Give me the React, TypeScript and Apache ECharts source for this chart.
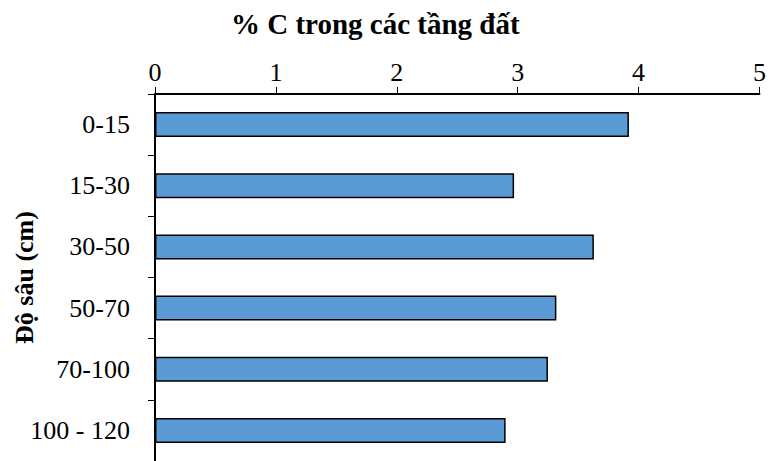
import React, { useEffect, useRef } from "react";
import * as echarts from "echarts";

// Soil depth layers (top to bottom) and organic carbon content (%)
const depths = ["0-15", "15-30", "30-50", "50-70", "70-100", "100 - 120"];
const carbonPct = [3.92, 2.97, 3.63, 3.32, 3.25, 2.9];
const xTicks = { min: 0, max: 5, interval: 1 };

const titleText = "% C trong các tầng đất";
const yAxisTitle = "Độ sâu (cm)";

const FONT = "'Liberation Serif', 'Times New Roman', serif";

export default function App() {
  const ref = useRef<HTMLDivElement>(null);

  useEffect(() => {
    if (!ref.current) return;
    const chart = echarts.init(ref.current, undefined, { renderer: "svg" });
    chart.setOption({
      animation: false,
      backgroundColor: "#ffffff",
      title: {
        text: titleText,
        left: 231,
        top: 9,
        padding: 0,
        textStyle: {
          fontFamily: FONT,
          fontWeight: "bold",
          fontSize: 29,
          color: "#000000",
        },
      },
      grid: {
        left: 155,
        right: 8.5,
        top: 94,
        height: 367,
        containLabel: false,
        outerBoundsMode: "none",
      },
      xAxis: {
        type: "value",
        position: "top",
        min: xTicks.min,
        max: xTicks.max,
        interval: xTicks.interval,
        axisLine: { show: true, lineStyle: { color: "#000000", width: 2 } },
        axisTick: { show: true, inside: false, length: 7, lineStyle: { color: "#000000", width: 1 } },
        axisLabel: { fontFamily: FONT, fontSize: 26, color: "#000000", margin: 9 },
        splitLine: { show: false },
      },
      yAxis: {
        type: "category",
        data: depths,
        inverse: true,
        name: yAxisTitle,
        nameLocation: "middle",
        nameGap: 118,
        nameMoveOverlap: false,
        nameTextStyle: {
          fontFamily: FONT,
          fontWeight: "bold",
          fontSize: 26,
          color: "#000000",
        },
        axisLine: { show: true, lineStyle: { color: "#000000", width: 2 } },
        axisTick: { show: true, inside: false, length: 7, lineStyle: { color: "#000000", width: 1 } },
        axisLabel: { fontFamily: FONT, fontSize: 26, color: "#000000", margin: 25 },
        splitLine: { show: false },
      },
      series: [
        {
          type: "bar",
          data: carbonPct,
          barWidth: 25,
          itemStyle: {
            color: "#5B9BD5",
            borderColor: "#000000",
            borderWidth: 1.5,
          },
        },
      ],
    });
    return () => chart.dispose();
  }, []);

  return (
    <div
      ref={ref}
      style={{ position: "fixed", left: 0, top: 0, width: 768, height: 461, background: "#fff" }}
    />
  );
}
